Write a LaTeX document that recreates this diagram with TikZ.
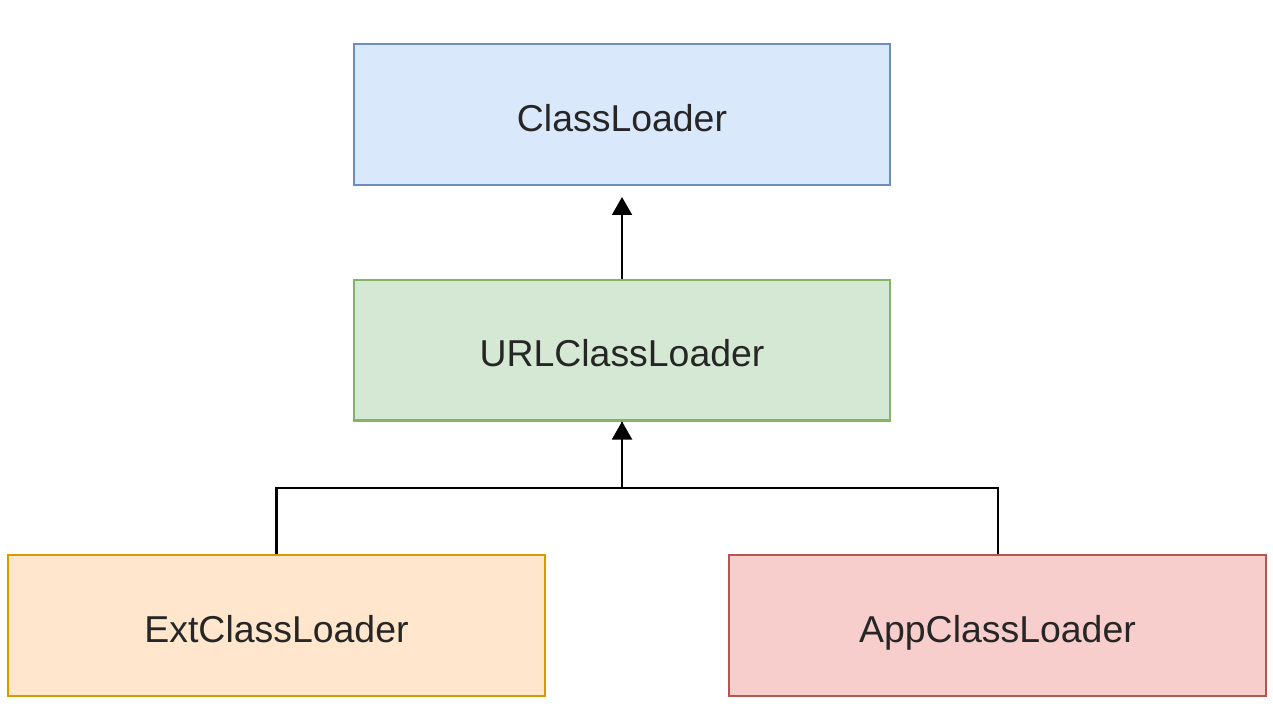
\documentclass[tikz,border=0pt]{standalone}
\usepackage{fontspec}
\setmainfont{Liberation Sans}
\usetikzlibrary{arrows.meta,calc}
\definecolor{blueF}{HTML}{DAE8FC}\definecolor{blueS}{HTML}{6C8EBF}
\definecolor{greenF}{HTML}{D5E8D4}\definecolor{greenS}{HTML}{82B366}
\definecolor{orangeF}{HTML}{FFE6CC}\definecolor{orangeS}{HTML}{D79B00}
\definecolor{redF}{HTML}{F8CECC}\definecolor{redS}{HTML}{B85450}
\begin{document}
\begin{tikzpicture}[x=0.02cm,y=-0.02cm,
  box/.style={draw, line width=1.15pt, minimum width=10.74cm, minimum height=2.82cm, inner sep=0pt},
  lbl/.style={font=\fontsize{21.3pt}{25pt}\selectfont, text=black!85, inner sep=0pt,
    text height=15.3pt, text depth=0pt},
  conn/.style={line width=1.15pt, black},
  arr/.style={conn, -{Triangle[length=0.36cm,width=0.4cm]}}]
\useasboundingbox (0,0) rectangle (1273,710);
\node[box, fill=blueF, draw=blueS] (cl) at (622,114.5) {};
\node[box, fill=greenF, draw=greenS] (url) at (622,350) {};
\node[box, fill=orangeF, draw=orangeS] (ext) at (276.5,625.5) {};
\node[box, fill=redF, draw=redS] (app) at (997.5,625.5) {};
\node[lbl] (clt) at ($(cl.center)+(0,3.5)$) {ClassLoader};
\node[lbl] (urlt) at ($(url.center)+(0,3.5)$) {URLClassLoader};
\node[lbl] (extt) at ($(ext.center)+(0,3.5)$) {ExtClassLoader};
\node[lbl] (appt) at ($(app.center)+(0,3.5)$) {AppClassLoader};
\draw[arr] (url.north) -- ($(cl.south)+(0,11)$);
\draw[conn] (app.north) -- ++(0,-66) -| (url.south);
\draw[arr] (ext.north) -- ++(0,-66) -| (url.south);
\end{tikzpicture}
\end{document}
